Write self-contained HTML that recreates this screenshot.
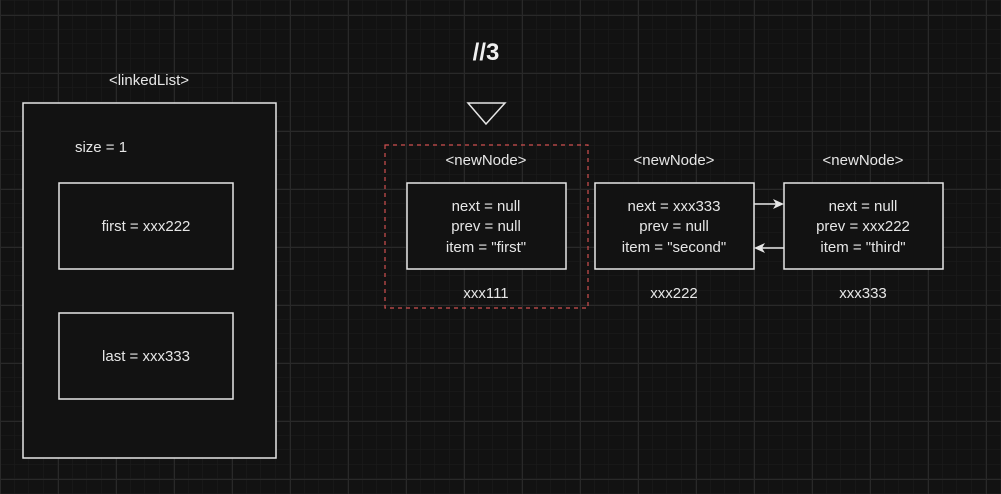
<!DOCTYPE html>
<html><head><style>
html,body{margin:0;padding:0;background:#121212;}
svg{display:block;}
text{font-family:"Liberation Sans",Arial,sans-serif;fill:#e6e6e6;font-size:15px;}
</style></head><body>
<svg width="1001" height="494" xmlns="http://www.w3.org/2000/svg">
<defs>
<pattern id="minor" x="0" y="0.5" width="14.5" height="14.5" patternUnits="userSpaceOnUse">
<path d="M14.5 0V14.5M0 14.5H14.5" stroke="#1d1d1d" stroke-width="1" fill="none"/>
</pattern>
<pattern id="major" x="0" y="15" width="58" height="58" patternUnits="userSpaceOnUse">
<path d="M0.5 0V58M0 0.5H58" stroke="#292929" stroke-width="1" fill="none"/>
</pattern>
</defs>
<rect width="1001" height="494" fill="#121212"/>
<rect width="1001" height="494" fill="url(#minor)"/>
<rect width="1001" height="494" fill="url(#major)"/>

<text x="149" y="85" text-anchor="middle">&lt;linkedList&gt;</text>
<rect x="23" y="103" width="253" height="355" fill="#121212" stroke="#e6e6e6" stroke-width="1.5"/>
<text x="101" y="152" text-anchor="middle">size = 1</text>
<rect x="59" y="183" width="174" height="86" fill="#121212" stroke="#e6e6e6" stroke-width="1.5"/>
<text x="146" y="231" text-anchor="middle">first = xxx222</text>
<rect x="59" y="313" width="174" height="86" fill="#121212" stroke="#e6e6e6" stroke-width="1.5"/>
<text x="146" y="361" text-anchor="middle">last = xxx333</text>

<text x="486" y="60" text-anchor="middle" style="font-size:24px;font-weight:bold;fill:#f0f0f0">//3</text>
<polygon points="468,103 505,103 486,124" fill="none" stroke="#e6e6e6" stroke-width="1.5"/>

<rect x="385" y="145" width="203" height="163" fill="none" stroke="#d05050" stroke-width="1.2" stroke-dasharray="4,4"/>
<text x="486" y="165" text-anchor="middle">&lt;newNode&gt;</text>
<rect x="407" y="183" width="159" height="86" fill="#121212" stroke="#e6e6e6" stroke-width="1.5"/>
<text x="486" y="211" text-anchor="middle">next = null</text>
<text x="486" y="231" text-anchor="middle">prev = null</text>
<text x="486" y="252" text-anchor="middle">item = "first"</text>
<text x="486" y="298" text-anchor="middle">xxx111</text>

<text x="674" y="165" text-anchor="middle">&lt;newNode&gt;</text>
<rect x="595" y="183" width="159" height="86" fill="#121212" stroke="#e6e6e6" stroke-width="1.5"/>
<text x="674" y="211" text-anchor="middle">next = xxx333</text>
<text x="674" y="231" text-anchor="middle">prev = null</text>
<text x="674" y="252" text-anchor="middle">item = "second"</text>
<text x="674" y="298" text-anchor="middle">xxx222</text>

<text x="863" y="165" text-anchor="middle">&lt;newNode&gt;</text>
<rect x="784" y="183" width="159" height="86" fill="#121212" stroke="#e6e6e6" stroke-width="1.5"/>
<text x="863" y="211" text-anchor="middle">next = null</text>
<text x="863" y="231" text-anchor="middle">prev = xxx222</text>
<text x="863" y="252" text-anchor="middle">item = "third"</text>
<text x="863" y="298" text-anchor="middle">xxx333</text>

<line x1="754" y1="204" x2="776" y2="204" stroke="#e6e6e6" stroke-width="1.5"/>
<polygon points="784,204 773,199 776,204 773,209" fill="#e6e6e6"/>
<line x1="784" y1="248" x2="762" y2="248" stroke="#e6e6e6" stroke-width="1.5"/>
<polygon points="754,248 765,243 762,248 765,253" fill="#e6e6e6"/>
</svg>
</body></html>
